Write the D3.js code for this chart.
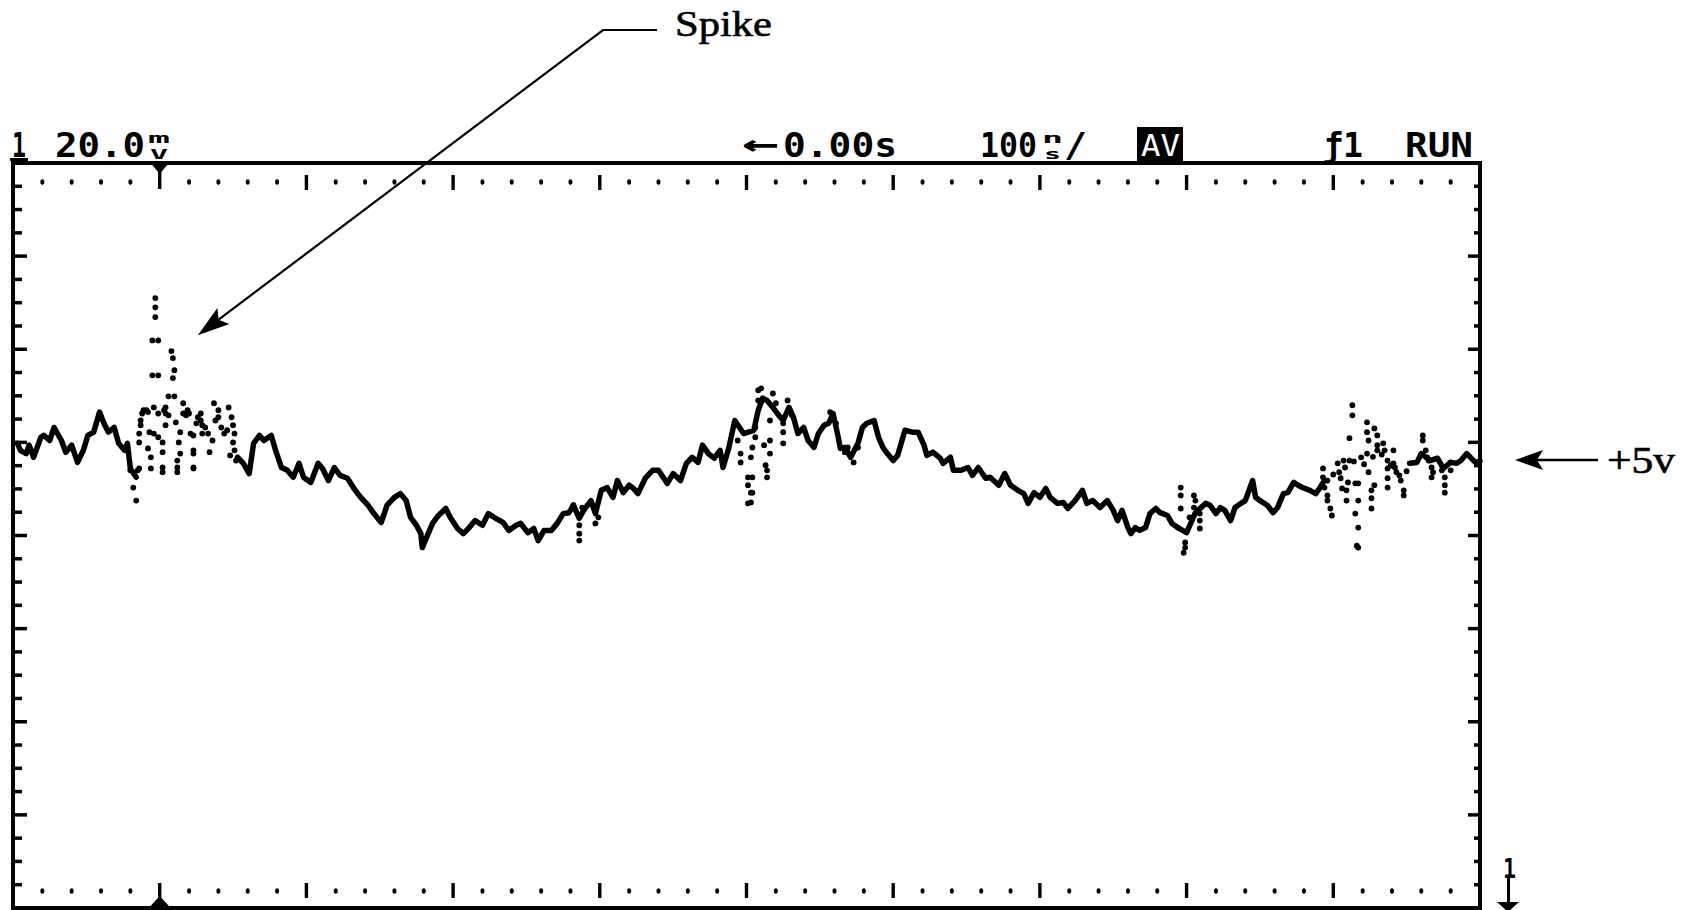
<!DOCTYPE html>
<html lang="en">
<head>
<meta charset="UTF-8">
<title>Scope capture - spike on +5v</title>
<script src="https://cdn.jsdelivr.net/npm/d3@7"></script>
<style>
  html, body { margin: 0; padding: 0; background: #fff; }
  svg { display: block; }
  .scope { font-family: "DejaVu Sans Mono", monospace; font-weight: bold; fill: #000; }
  .note { font-family: "Liberation Serif", "Times New Roman", serif; fill: #000; stroke: #000; stroke-width: 0.6; }
</style>
</head>
<body>
<svg id="chart"></svg>
<script>
// scope readout strings
const channel = "1";
const voltsPerDiv = "20.0";
const voltsUnit = ["m", "V"];
const delayArrow = "\u2190";
const delay = "0.00s";
const timePerDiv = "100";
const timeUnit = ["n", "s"];
const acqMode = "AV";
const trigger = "\u01921";
const runState = "RUN";
const spikeLabel = "Spike";
const railLabel = "+5v";
const groundLabel = "1";

// screen: 100 ns/div over 10 div, 20 mV/div over 8 div (mV relative to centre line)
const timeDomain = [-100, 900];
const mvDomain = [-80, 80];

// annotation anchors (data units)
const spikeTip = [26, 43];
const railMv = 16.2;

// main trace, [ns, mV]; null = gap where only scattered samples show
const trace = [
  [-97,19.8],[-95,18.3],[-91,17.6],[-89,19.4],[-86,16.8],[-81,21.1],[-79,21.5],[-75,20.4],[-72,23.2],[-67,20.4],
  [-64,17.9],[-60,19.4],[-56,15.7],[-52,18.3],[-49,21.5],[-45,22.2],[-41,26.5],[-38,24.1],[-35,22.2],[-31,23.2],
  [-28,19.8],[-24,18.3],[-22,19.8],[-20,14.4],[-16,12.5],[-10,null],
  [53,16.8],[57,15.5],[61,13.3],[64,19.8],[68,21.5],[71,20.4],[76,21.5],[79,18.3],[83,14.6],[87,14.0],
  [91,12.5],[95,15.5],[98,12.5],[103,11.4],[108,15.5],[111,14.4],[115,11.8],[119,14.6],[123,12.9],[128,12.3],
  [132,10.3],[137,8.2],[142,6.5],[146,4.7],[151,2.8],[155,6.5],[160,8.2],[164,9.0],[168,7.5],[171,3.9],
  [175,2.2],[178,0.4],[179,-2.6],[183,0.4],[186,2.6],[190,4.3],[195,5.8],[198,3.9],[203,1.5],[207,0.4],
  [211,1.7],[215,3.2],[220,2.2],[224,4.7],[229,3.7],[234,2.8],[238,1.1],[243,2.2],[246,2.6],[251,0.6],
  [255,1.5],[258,-1.1],[262,1.1],[267,1.1],[271,2.6],[275,4.7],[279,4.9],[282,6.5],[286,3.7],[289,5.4],
  [294,7.5],[297,4.7],[301,9.7],[305,10.3],[309,8.2],[312,11.8],[316,9.2],[320,10.8],[323,10.1],[326,9.0],
  [331,12.3],[336,14.0],[340,14.0],[346,11.2],[350,13.3],[355,11.8],[359,15.5],[363,16.8],[367,15.7],[370,19.4],
  [374,17.6],[378,16.6],[382,18.3],[384,14.6],[388,18.9],[392,24.7],[398,21.9],[405,22.6],[408,26.9],[411,29.5],
  [414,29.0],[418,27.5],[421,26.2],[425,24.7],[429,27.5],[432,25.4],[435,21.9],[439,23.2],[442,20.4],[446,18.9],
  [449,21.9],[453,23.7],[456,24.1],[459,26.2],[462,21.9],[464,18.7],[467,18.9],[471,16.8],[476,19.8],[479,23.2],
  [482,24.1],[487,24.7],[490,21.1],[493,18.9],[496,17.6],[500,16.1],[503,17.2],[506,20.4],[508,22.6],[513,22.2],
  [517,22.2],[521,19.4],[523,17.2],[527,17.9],[532,16.6],[534,15.5],[539,16.8],[541,14.0],[546,14.0],[551,14.6],
  [554,12.9],[558,14.6],[563,12.3],[566,12.5],[572,10.8],[576,13.3],[580,10.8],[585,9.7],[589,9.0],[592,6.9],
  [596,9.2],[600,8.2],[604,10.1],[607,8.2],[612,6.9],[616,7.1],[619,5.8],[624,7.5],[629,9.7],[632,6.9],
  [636,7.5],[641,6.0],[646,7.5],[650,5.4],[653,3.2],[656,5.4],[660,1.7],[662,0.4],[665,1.7],[668,1.1],
  [672,1.7],[675,4.7],[679,5.8],[682,4.9],[687,4.3],[690,2.6],[694,1.7],[700,0.6],[706,4.9],[713,6.9],
  [716,6.5],[720,4.7],[723,6.0],[726,5.4],[730,3.2],[733,6.0],[737,6.9],[740,7.5],[745,11.8],[747,8.2],
  [750,7.5],[755,6.5],[759,4.9],[762,6.0],[766,9.0],[769,9.2],[773,11.4],[776,10.8],[779,10.3],[784,9.7],
  [788,9.0],[791,10.3],[794,11.8],[797,null],
  [852,15.5],[857,15.7],[860,17.6],[866,16.1],[871,16.6],[875,14.4],[880,15.7],[884,15.5],[887,16.1],
  [891,17.6],[894,16.6],[897,15.7],[900,16.0]
];

// scattered samples (averaging mode noise and the spike), [ns, mV]
const noiseDots = [
  [-3,51.0],[-3,49.0],[-3,46.9],[-5,41.9],[-1,41.9],[-5,34.4],[-1,34.4],[8,39.6],[9,38.1],[10,35.5],
  [9,33.8],[6,29.9],[10,29.9],[-4,27.5],[-11,26.9],[4,27.5],[4,26.2],[-1,26.2],[16,28.4],[16,26.2],
  [20,26.2],[-13,24.7],[-13,23.7],[4,23.7],[11,24.3],[28,26.2],[28,24.7],[29,23.7],[37,28.4],[40,26.9],
  [40,25.4],[42,23.2],[44,21.9],[47,27.5],[49,25.4],[50,23.7],[51,21.9],[50,20.0],[51,18.3],[-14,21.9],
  [-14,20.0],[-7,22.2],[-4,21.9],[-1,21.1],[2,20.0],[2,17.9],[-8,18.7],[-6,16.8],[-6,14.4],[-14,14.4],
  [2,14.6],[2,13.6],[12,16.1],[12,14.6],[12,13.6],[14,17.6],[14,22.2],[13,20.0],[21,21.9],[23,21.5],
  [23,18.3],[23,17.6],[23,14.6],[23,14.4],[34,17.9],[29,21.9],[-18,10.3],[-16,7.5],[-20,14.0],[-15,14.0],
  [26,25.4],[33,21.9],[-9,26.9],[18,25.8],[6,25.8],[-12,26.2],[-8,26.5],[3,26.9],[19,26.9],[25,24.1],
  [31,23.2],[36,20.4],[38,24.7],[46,22.6],[48,17.2],[52,16.1],
  [286,2.2],[286,0.4],[286,-1.1],[297,5.4],[299,3.9],[297,2.6],[282,6.5],[288,6.0],
  [394,20.4],[396,15.7],[396,17.6],[403,16.8],[401,12.5],[401,10.8],[403,9.2],[401,6.9],[406,21.1],[408,31.2],
  [408,29.0],[410,31.6],[418,30.5],[420,28.4],[428,29.0],[431,25.8],[406,23.2],[416,24.7],[425,24.1],[425,22.2],
  [416,20.4],[412,19.4],[425,19.8],[416,17.6],[413,15.1],[414,14.0],[414,12.5],[404,18.9],[404,12.5],[404,9.2],
  [403,7.1],[457,26.5],[459,25.4],[461,24.1],[469,18.9],[467,17.9],[473,15.7],[476,18.9],
  [696,10.3],[696,8.6],[696,5.8],[699,-1.5],[699,-2.6],[698,-3.7],[705,8.6],[706,7.5],[705,6.0],[709,4.7],
  [709,3.2],[709,1.5],[702,3.9],[694,1.7],
  [793,14.4],[793,12.5],[796,11.8],[794,10.3],[796,8.6],[796,7.5],[798,5.8],[799,4.3],[803,15.5],[804,13.6],
  [805,12.3],[807,16.1],[811,16.1],[806,10.1],[809,9.7],[810,11.4],[815,11.2],[809,7.5],[817,11.2],[817,7.5],
  [813,28.0],[813,25.8],[811,20.9],[815,4.7],[817,1.7],[816,-2.2],[817,-2.6],[823,24.3],[823,22.2],[824,20.4],
  [823,17.6],[828,23.0],[830,21.5],[830,19.4],[830,18.3],[824,13.6],[826,9.7],[826,8.0],[826,5.8],[828,10.8],
  [834,19.8],[835,18.3],[837,16.1],[841,18.3],[841,15.5],[842,14.6],[837,14.4],[837,12.3],[837,10.3],[843,13.6],
  [846,11.8],[848,9.7],[848,8.6],[861,21.5],[861,20.4],[863,18.3],[864,16.8],[865,16.1],[867,14.6],[868,13.6],
  [867,12.5],[874,14.0],[876,12.5],[876,10.8],[876,9.2],[880,15.7],[880,14.0],
  [800,13.1],[808,14.6],[814,15.9],[819,16.8],[821,15.3],[827,16.9],[833,17.4],[839,15.0],[845,12.9],[850,13.8]
];

// graticule marks
const timeTicks = d3.range(-80, 900, 20);
const mvTicks = d3.range(-75, 80, 5);

const W = 1691, H = 910;
const svg = d3.select("#chart").attr("width", W).attr("height", H);

const x = d3.scaleLinear().domain(timeDomain).range([13, 1480]);
const y = d3.scaleLinear().domain(mvDomain).range([908, 163]);

const scrLeft = x(timeDomain[0]), scrRight = x(timeDomain[1]);
const scrTop = y(mvDomain[1]), scrBottom = y(mvDomain[0]);

// frame
svg.append("rect")
  .attr("x", scrLeft).attr("y", scrTop)
  .attr("width", scrRight - scrLeft).attr("height", scrBottom - scrTop)
  .attr("fill", "none").attr("stroke", "#000").attr("stroke-width", 4);

// horizontal tick rows near top and bottom
const rows = [
  { y: scrTop + 19, major: [scrTop + 12, scrTop + 27] },
  { y: scrBottom - 17, major: [scrBottom - 25, scrBottom - 10] }
];
rows.forEach(r => {
  timeTicks.forEach(t => {
    if (t === 0) return;
    if ((t - timeDomain[0]) % 100 === 0) {
      svg.append("rect")
        .attr("x", x(t) - 1.7).attr("y", r.major[0])
        .attr("width", 3.4).attr("height", r.major[1] - r.major[0])
        .attr("fill", "#000");
    } else {
      svg.append("ellipse")
        .attr("cx", x(t)).attr("cy", r.y)
        .attr("rx", 2).attr("ry", 2.8)
        .attr("fill", "#000");
    }
  });
});

// vertical ticks on both sides
mvTicks.forEach(v => {
  const major = v % 20 === 0;
  svg.append("line")
    .attr("x1", scrLeft).attr("x2", scrLeft + (major ? 14 : 9))
    .attr("y1", y(v)).attr("y2", y(v))
    .attr("stroke", "#000").attr("stroke-width", 3.5);
  svg.append("line")
    .attr("x1", scrRight).attr("x2", scrRight - (major ? 12 : 6))
    .attr("y1", y(v)).attr("y2", y(v))
    .attr("stroke", "#000").attr("stroke-width", 3.5);
});

// trigger position markers
const tx = x(0);
svg.append("path")
  .attr("d", `M${tx - 9},${scrTop} L${tx + 9},${scrTop} L${tx},${scrTop + 11} Z`)
  .attr("fill", "#000");
svg.append("rect").attr("x", tx - 1.7).attr("y", scrTop).attr("width", 3.4).attr("height", 26).attr("fill", "#000");
svg.append("path")
  .attr("d", `M${tx - 11},${scrBottom} L${tx + 11},${scrBottom} L${tx},${scrBottom - 12} Z`)
  .attr("fill", "#000");
svg.append("rect").attr("x", tx - 1.7).attr("y", scrBottom - 25).attr("width", 3.4).attr("height", 25).attr("fill", "#000");

// waveform
const line = d3.line()
  .defined(d => d[1] !== null)
  .x(d => x(d[0]))
  .y(d => y(d[1]));

svg.append("path")
  .datum(trace)
  .attr("d", line)
  .attr("fill", "none")
  .attr("stroke", "#000")
  .attr("stroke-width", 5.5)
  .attr("stroke-linejoin", "round")
  .attr("stroke-linecap", "round");

svg.append("g")
  .selectAll("circle")
  .data(noiseDots)
  .enter()
  .append("circle")
  .attr("cx", d => x(d[0]))
  .attr("cy", d => y(d[1]))
  .attr("r", 2.9)
  .attr("fill", "#000");

// readout text
function fitText(str, x0, x1, base, size, cls) {
  return svg.append("text")
    .attr("class", cls || "scope")
    .attr("x", x0).attr("y", base)
    .attr("font-size", size)
    .attr("textLength", x1 - x0)
    .attr("lengthAdjust", "spacingAndGlyphs")
    .text(str);
}

// value followed by a unit drawn as two small stacked glyphs, all in one text element
function valueWithUnit(value, vx0, vx1, unit, ux0, ux1, base, size, tail, tx0, tx1) {
  const t = svg.append("text").attr("class", "scope").attr("font-size", size);
  t.append("tspan").attr("x", vx0).attr("y", base)
    .attr("textLength", vx1 - vx0).attr("lengthAdjust", "spacingAndGlyphs").text(value);
  t.append("tspan").attr("x", ux0).attr("y", base - 14).attr("font-size", 14)
    .attr("textLength", ux1 - ux0).attr("lengthAdjust", "spacingAndGlyphs").text(unit[0]);
  t.append("tspan").attr("x", ux0 + 2).attr("y", base + 2).attr("font-size", 14)
    .attr("textLength", ux1 - ux0 - 4).attr("lengthAdjust", "spacingAndGlyphs").text(unit[1]);
  if (tail) {
    t.append("tspan").attr("x", tx0).attr("y", base)
      .attr("textLength", tx1 - tx0).attr("lengthAdjust", "spacingAndGlyphs").text(tail);
  }
  return t;
}

fitText(channel, 12, 26, 157, 33);
svg.append("rect").attr("x", 10).attr("y", 158).attr("width", 18).attr("height", 3).attr("fill", "#000");
valueWithUnit(voltsPerDiv, 55, 145, voltsUnit, 148, 170, 157, 33);

fitText(delayArrow, 742, 779, 155, 33);
fitText(delay, 783, 897, 157, 33);

valueWithUnit(timePerDiv, 980, 1037, timeUnit, 1042, 1063, 157, 33, "/", 1064, 1087);

svg.append("rect").attr("x", 1137).attr("y", 127).attr("width", 46).attr("height", 36).attr("fill", "#000");
fitText(acqMode, 1141, 1180, 156, 30).style("fill", "#fff").style("font-weight", "normal");

fitText(trigger, 1323, 1363, 157, 33);
fitText(runState, 1405, 1473, 157, 33);

// ground reference marker below the screen
fitText(groundLabel, 1503, 1516, 878, 27);
svg.append("rect").attr("x", 1507).attr("y", 878).attr("width", 3).attr("height", 25).attr("fill", "#000");
svg.append("path").attr("d", "M1497,902 L1519,902 L1508,912 Z").attr("fill", "#000");

// arrowhead helper
function arrowHead(tipX, tipY, fromX, fromY, len, half) {
  const dx = tipX - fromX, dy = tipY - fromY;
  const n = Math.hypot(dx, dy);
  const ux = dx / n, uy = dy / n;
  const bx = tipX - ux * len, by = tipY - uy * len;
  svg.append("path")
    .attr("d", `M${tipX},${tipY} L${bx - uy * half},${by + ux * half} L${bx + ux * 6},${by + uy * 6} L${bx + uy * half},${by - ux * half} Z`)
    .attr("fill", "#000");
  return [bx + ux * 6, by + uy * 6];
}

// Spike annotation
const sx = x(spikeTip[0]), sy = y(spikeTip[1]);
const sBase = arrowHead(sx, sy, 603, 30, 32, 10);
svg.append("path")
  .attr("d", `M657,30 L603,30 L${sBase[0]},${sBase[1]}`)
  .attr("fill", "none").attr("stroke", "#000").attr("stroke-width", 2.2);
fitText(spikeLabel, 675, 772, 36, 36, "note");

// +5v annotation
const ry = y(railMv);
const rBase = arrowHead(1515, ry, 1598, ry, 28, 10);
svg.append("line")
  .attr("x1", rBase[0]).attr("x2", 1598)
  .attr("y1", ry).attr("y2", ry)
  .attr("stroke", "#000").attr("stroke-width", 2.5);
fitText(railLabel, 1607, 1675, 473, 38, "note");
</script>
</body>
</html>
